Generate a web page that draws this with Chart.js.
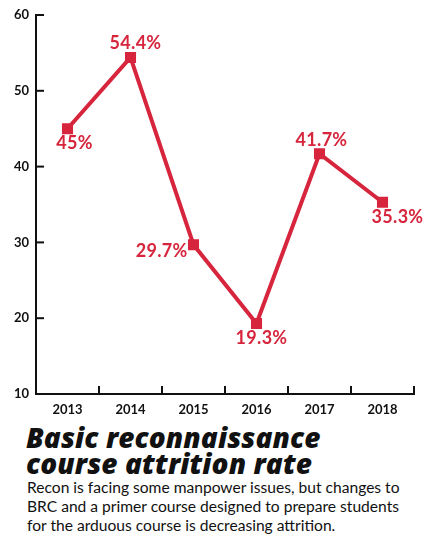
<!DOCTYPE html>
<html>
<head>
<meta charset="utf-8">
<script src="https://cdn.jsdelivr.net/npm/chart.js@4"></script>
<style>
  body { margin: 0; background: #fff; width: 446px; height: 556px; overflow: hidden; }
  #wrap { position: relative; width: 446px; height: 418px; }
  h1 { margin: 6px 0 0 26px; font-family: "Open Sans", sans-serif; font-weight: 800; font-style: italic;
       font-size: 28px; line-height: 26px; color: #111; letter-spacing: 0.1px; }
  p { margin: 2px 0 0 27px; font-family: Lato, sans-serif; font-weight: 400; font-size: 15.6px;
      line-height: 19px; color: #111; }
</style>
</head>
<body>
<div id="wrap"><canvas id="myChart"></canvas></div>
<h1>Basic reconnaissance<br>course attrition rate</h1>
<p>Recon is facing some manpower issues, but changes to<br>BRC and a primer course designed to prepare students<br>for the arduous course is decreasing attrition.</p>
<script>
// chart data
var years = ['2013', '2014', '2015', '2016', '2017', '2018'];
var attrition = [45, 54.4, 29.7, 19.3, 41.7, 35.3];
var valueLabels = ['45%', '54.4%', '29.7%', '19.3%', '41.7%', '35.3%'];
var yTicks = [10, 20, 30, 40, 50, 60];

var red = '#d6253c';

// where each value label sits relative to its point
var labelPlace = [
  { dx: 7, dy: 14, align: 'center' },
  { dx: 5, dy: -14, align: 'center' },
  { dx: -6, dy: 7, align: 'right' },
  { dx: 5, dy: 15, align: 'center' },
  { dx: 2, dy: -14, align: 'center' },
  { dx: 15, dy: 15, align: 'center' }
];

var extras = {
  id: 'extras',
  afterDatasetsDraw: function(chart) {
    var ctx = chart.ctx, area = chart.chartArea;
    var xs = chart.scales.x, ys = chart.scales.y;
    ctx.save();
    ctx.strokeStyle = '#111';
    ctx.lineWidth = 2;
    // inward tick marks
    yTicks.forEach(function(v) {
      var y = ys.getPixelForValue(v);
      ctx.beginPath(); ctx.moveTo(area.left, y); ctx.lineTo(area.left + 8, y); ctx.stroke();
    });
    for (var i = 0; i < years.length; i++) {
      var x = i < years.length - 1 ? (xs.getPixelForValue(i) + xs.getPixelForValue(i + 1)) / 2 : area.right;
      ctx.beginPath(); ctx.moveTo(x, area.bottom); ctx.lineTo(x, area.bottom - 8); ctx.stroke();
    }
    // value labels
    var meta = chart.getDatasetMeta(0);
    ctx.fillStyle = red;
    ctx.font = 'bold 18px Lato, sans-serif';
    ctx.letterSpacing = '0.3px';
    ctx.textBaseline = 'middle';
    meta.data.forEach(function(pt, i) {
      var p = labelPlace[i];
      ctx.textAlign = p.align;
      ctx.fillText(valueLabels[i], pt.x + p.dx, pt.y + p.dy);
    });
    ctx.restore();
  }
};

var ctx = document.getElementById('myChart');
var myChart = new Chart(ctx, {
  type: 'line',
  data: {
    labels: years,
    datasets: [{
      data: attrition,
      borderColor: red,
      backgroundColor: red,
      borderWidth: 4,
      pointStyle: 'rect',
      pointRadius: 5,
      pointHoverRadius: 5,
      fill: false,
      tension: 0
    }]
  },
  options: {
    responsive: true,
    maintainAspectRatio: false,
    animation: false,
    layout: { padding: { top: 15, right: 32, left: 0, bottom: 0 } },
    plugins: { legend: { display: false }, tooltip: { enabled: false } },
    scales: {
      x: {
        offset: true,
        grid: { display: false, drawTicks: false },
        border: { display: true, color: '#111', width: 2 },
        ticks: { color: '#111', padding: 8, font: { family: 'Lato, sans-serif', weight: 'bold', size: 13 } },
        afterFit: function(s) { s.height = 24; }
      },
      y: {
        min: 10,
        max: 60,
        afterBuildTicks: function(s) { s.ticks = yTicks.map(function(v) { return { value: v }; }); },
        grid: { display: false, drawTicks: false },
        border: { display: true, color: '#111', width: 2 },
        ticks: { color: '#111', padding: 7, font: { family: 'Lato, sans-serif', weight: 'bold', size: 13 } },
        afterFit: function(s) { s.width = 36; }
      }
    }
  },
  plugins: [extras]
});
</script>
</body>
</html>
